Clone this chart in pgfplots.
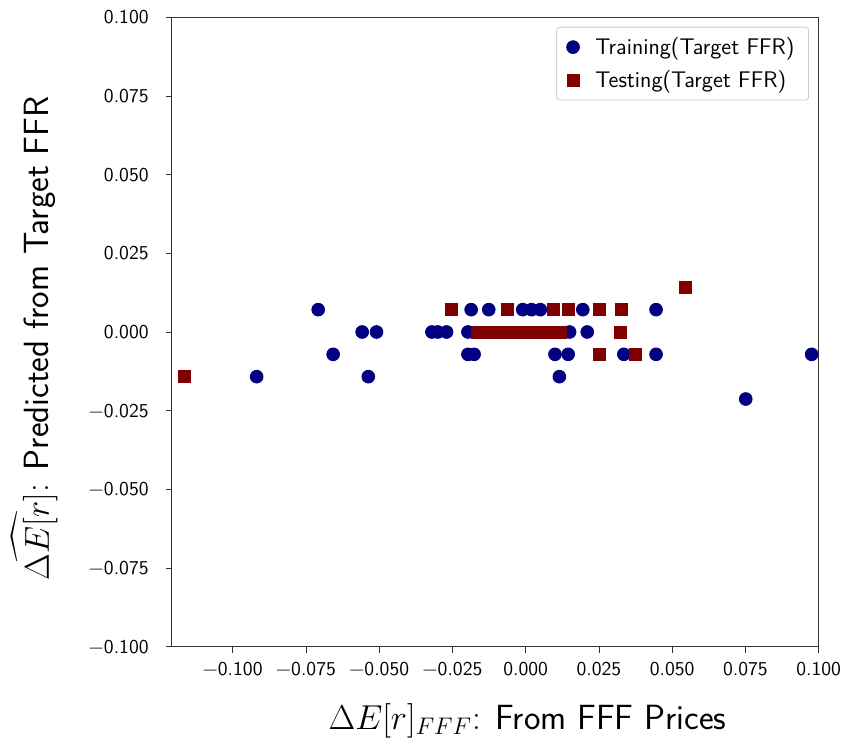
\documentclass[border=0pt]{standalone}
\usepackage{fontspec}
\usepackage{amsmath}
\usepackage{pgfplots}
\pgfplotsset{compat=1.18}
\definecolor{mnavy}{RGB}{0,0,128}
\definecolor{mred}{RGB}{128,0,0}
\begin{document}
\begin{tikzpicture}
\useasboundingbox (-85.85pt,-47.65pt) rectangle (337.65pt,323.35pt);
\begin{axis}[
  scale only axis,
  width=323.5pt, height=314.7pt,
  at={(0,0)}, anchor=south west,
  xmin=-0.1208, xmax=0.1,
  ymin=-0.1, ymax=0.1,
  xtick={-0.1,-0.075,-0.05,-0.025,0,0.025,0.05,0.075,0.1},
  xticklabels={−0.100,−0.075,−0.050,−0.025,0.000,0.025,0.050,0.075,0.100},
  ytick={-0.1,-0.075,-0.05,-0.025,0,0.025,0.05,0.075,0.1},
  yticklabels={−0.100,−0.075,−0.050,−0.025,0.000,0.025,0.050,0.075,0.100},
  tick align=outside,
  tick pos=left,
  major tick length=3pt,
  tick label style={font=\sffamily\fontsize{9.8}{11}\selectfont},
  yticklabel style={xshift=-5pt},
  xticklabel style={yshift=-1pt},
  axis line style={black!80},
  every tick/.style={black!80},
  xlabel={$\Delta E[r]_{FFF}$: \textsf{From FFF Prices}},
  ylabel={$\widehat{\Delta E[r]}$: \textsf{Predicted from Target FFR}},
  label style={font=\fontsize{17.5}{20}\selectfont},
  xlabel style={at={(rel axis cs:0.55,0)}, anchor=center, yshift=-37pt},
  ylabel style={at={(rel axis cs:0,0.49)}, anchor=center, yshift=68.5pt},
  legend style={at={(rel axis cs:0.985,0.985)}, anchor=north east,
    draw=black!20, rounded corners=1.5pt, font=\sffamily\fontsize{11.3}{13}\selectfont,
    row sep=2.5pt, inner xsep=5pt, inner ysep=3pt,
    /tikz/every odd column/.append style={column sep=6pt}},
  legend cell align=left,
]
\addplot[only marks, mark=*, mark size=3.2pt, draw=mnavy, fill=mnavy] coordinates {
(-0.0918,-0.0142) (-0.0708,0.0071) (-0.0558,0) (-0.0509,0) (-0.0657,-0.0071) (-0.0537,-0.0142)
(0.0976,-0.0071) (0.0751,-0.0213)
(-0.0186,0.0071) (-0.0126,0.0071) (-0.0010,0.0071) (0.0020,0.0071) (0.0050,0.0071) (0.0195,0.0071) (0.0445,0.0071)
(-0.0320,0) (-0.0300,0) (-0.0270,0) (-0.0197,0) (0.0150,0) (0.0210,0)
(-0.0197,-0.0071) (-0.0176,-0.0071) (0.0100,-0.0071) (0.0145,-0.0071) (0.0335,-0.0071) (0.0445,-0.0071)
(0.0115,-0.0142)
};
\addlegendentry{Training(Target FFR)}
\addplot[only marks, mark=square*, mark size=3pt, draw=mred, fill=mred] coordinates {
(-0.1163,-0.0142) (0.0544,0.0142)
(-0.0253,0.0071) (-0.0063,0.0071) (0.0095,0.0071) (0.0145,0.0071) (0.0250,0.0071) (0.0325,0.0071)
(-0.0165,0) (-0.0130,0) (-0.0095,0) (-0.0060,0) (-0.0020,0) (0.0015,0) (0.0050,0) (0.0085,0) (0.0118,0) (0.0322,0)
(0.0250,-0.0071) (0.0375,-0.0071)
};
\addlegendentry{Testing(Target FFR)}
\end{axis}
\end{tikzpicture}
\end{document}
